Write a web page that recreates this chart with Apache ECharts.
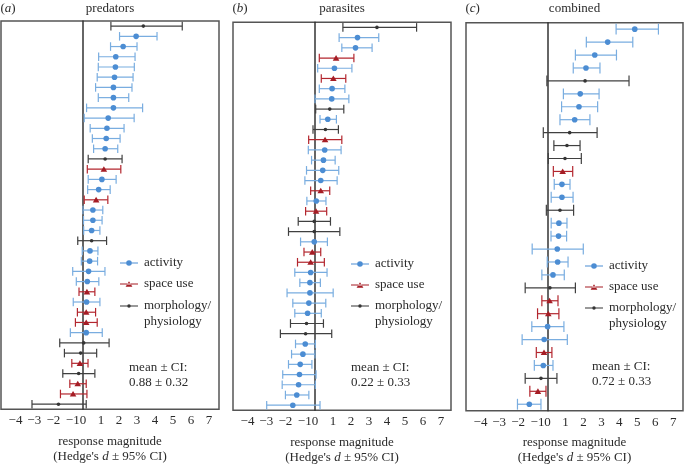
<!DOCTYPE html>
<html><head><meta charset="utf-8">
<script src="https://cdn.jsdelivr.net/npm/echarts@6/dist/echarts.min.js"></script>
<style>html,body{margin:0;padding:0;background:#fff}#c{width:685px;height:465px}</style>
</head><body><div id="c"></div>
<script>
// ---------- data ----------
const tickValues = [-4, -3, -2, -1, 0, 1, 2, 3, 4, 5, 6, 7];
const tickLabels = ['−4', '−3', '−2', '−1', '0', '1', '2', '3', '4', '5', '6', '7'];
const panelTitles = ['predators', 'parasites', 'combined'];
const panelLetters = ['a', 'b', 'c'];
const typeKeys = ['A', 'S', 'M'];
const typeNames = ['activity', 'space use', 'morphology/physiology'];
const meanValues = [0.88, 0.22, 0.72];
const ciValues = [0.32, 0.33, 0.33];

// predators (top to bottom)
const predType = ['M','A','A','A','A','A','A','A','A','A','A','A','A','M','S','A','A','S','A','A','A','M','A','A','A','A','S','A','S','S','A','M','M','S','M','S','S','M'];
const predMid  = [3.35,2.95,2.23,1.82,1.80,1.75,1.69,1.69,1.69,1.40,1.33,1.29,1.23,1.23,1.16,1.05,0.87,0.73,0.55,0.55,0.48,0.48,0.39,0.37,0.31,0.24,0.22,0.20,0.18,0.18,0.18,0.04,-0.13,-0.17,-0.24,-0.29,-0.55,-1.36];
const predLow  = [1.55,2.03,1.53,0.87,0.85,0.79,0.70,0.85,0.20,0.07,0.40,0.52,0.59,0.29,0.24,0.29,0.26,0.07,0.00,0.03,0.04,-0.29,-0.04,-0.09,-0.57,-0.37,-0.22,-0.54,-0.31,-0.42,-0.70,-1.29,-1.03,-0.62,-1.12,-0.73,-1.25,-2.83];
const predHigh = [5.51,4.11,3.00,2.89,2.85,2.78,2.72,2.54,3.31,2.84,2.28,2.06,1.93,2.17,2.10,1.84,1.51,1.38,1.10,1.06,0.94,1.31,0.83,0.81,1.22,0.88,0.66,0.94,0.70,0.79,1.07,1.45,0.76,0.28,0.66,0.18,0.22,0.18];

// parasites
const paraType = ['M','A','A','S','A','S','A','A','M','A','M','S','A','A','A','A','S','A','S','M','M','A','S','S','A','A','A','A','A','M','M','A','A','A','A','A','A','A'];
const paraMid  = [3.44,2.36,2.25,1.17,1.08,1.02,0.95,0.93,0.82,0.71,0.58,0.56,0.54,0.47,0.43,0.32,0.32,0.07,0.06,-0.04,-0.04,-0.04,-0.15,-0.24,-0.24,-0.28,-0.28,-0.34,-0.41,-0.47,-0.52,-0.54,-0.67,-0.82,-0.86,-0.91,-1.01,-1.23];
const paraLow  = [1.55,1.34,1.49,0.24,0.15,0.35,0.24,0.00,0.04,0.28,-0.11,-0.35,-0.37,-0.19,-0.47,-0.56,-0.24,-0.45,-0.52,-0.93,-1.47,-0.80,-0.61,-0.97,-1.12,-0.84,-1.55,-1.23,-1.12,-1.36,-1.92,-1.08,-1.30,-1.47,-1.79,-1.82,-1.64,-2.68];
const paraHigh = [5.64,3.54,3.17,2.16,2.05,1.71,1.66,1.88,1.60,1.19,1.30,1.49,1.45,1.12,1.32,1.23,0.82,0.61,0.65,0.86,1.38,0.69,0.32,0.52,0.67,0.30,1.01,0.60,0.35,0.47,0.93,0.02,0.00,-0.17,0.06,0.02,-0.34,0.28];

// combined
const combType = ['A','A','A','A','M','A','A','A','M','M','M','S','A','A','M','A','A','A','A','A','M','S','S','A','A','S','A','M','S','A'];
const combMid  = [4.86,3.35,2.63,2.14,2.09,1.82,1.75,1.51,1.23,1.08,0.97,0.84,0.80,0.80,0.69,0.63,0.61,0.54,0.56,0.30,0.13,0.11,0.04,0.00,-0.19,-0.20,-0.24,-0.37,-0.54,-1.02];
const combLow  = [3.82,2.16,1.55,1.43,-0.04,0.88,0.78,0.69,-0.24,0.35,0.04,0.32,0.37,0.20,-0.07,0.20,0.19,-0.86,-0.02,-0.32,-1.25,-0.32,-0.56,-0.88,-1.42,-0.63,-0.74,-1.25,-0.99,-1.68];
const combHigh = [6.18,4.75,3.84,2.92,4.54,2.87,2.79,2.36,2.76,1.81,1.88,1.40,1.25,1.42,1.45,1.08,1.06,1.99,1.14,0.93,1.55,0.58,0.63,0.91,1.10,0.24,0.30,0.52,-0.09,-0.37];

const panels = [
  {type: predType, mid: predMid, low: predLow, high: predHigh},
  {type: paraType, mid: paraMid, low: paraLow, high: paraHigh},
  {type: combType, mid: combMid, low: combLow, high: combHigh}
];

// ---------- styling ----------
const FONT = 'Liberation Serif';
const TXT = '#2b2b2b';
const X_MIN = -4.55, X_MAX = 7.55;
const gridPos = [{left: 1, width: 218, top: 21, height: 388.3}, {left: 233, width: 218, top: 22.3, height: 388}, {left: 466, width: 217, top: 22.7, height: 388}];
const styleOf = {
  A: {bar: '#79ade0', dot: '#4c8dd3'},
  S: {bar: '#b3262e', dot: '#a51d25'},
  M: {bar: '#404040', dot: '#353535'}
};
const legendIcons = {
  A: 'path://M0,0M18,10M0,4.45L18,4.45L18,5.55L0,5.55ZM6.2,5A2.8,2.8,0,1,1,11.8,5A2.8,2.8,0,1,1,6.2,5Z',
  S: 'path://M0,0M18,10M0,4.45L18,4.45L18,5.55L0,5.55ZM5.6,7.7L12.4,7.7L9,2.2Z',
  M: 'path://M0,0M18,10M0,4.45L18,4.45L18,5.55L0,5.55ZM7.2,5A1.8,1.8,0,1,1,10.8,5A1.8,1.8,0,1,1,7.2,5Z'
};
const legendLeft = [120, 351, 585];
const legendTopA = [255, 256, 258];
const legendTopB = [282, 282, 284];
const meanPos = [[129, 360.5], [351, 360.5], [592, 359]];
const negShift = {1: 7.8, 2: 6.4, 3: 5.3, 4: 4.6};

function makeRender(kind) {
  const st = styleOf[kind];
  return function (params, api) {
    const row = api.value(0);
    const lo = api.coord([api.value(1), row]);
    const md = api.coord([api.value(2), row]);
    const hi = api.coord([api.value(3), row]);
    const band = api.size([0, 1])[1];
    const cap = band * 0.42;
    const y = md[1];
    const lw = 1.2;
    const children = [
      {type: 'line', shape: {x1: lo[0], y1: y, x2: hi[0], y2: y}, style: {stroke: st.bar, lineWidth: lw}},
      {type: 'line', shape: {x1: lo[0], y1: y - cap, x2: lo[0], y2: y + cap}, style: {stroke: st.bar, lineWidth: lw}},
      {type: 'line', shape: {x1: hi[0], y1: y - cap, x2: hi[0], y2: y + cap}, style: {stroke: st.bar, lineWidth: lw}}
    ];
    if (kind === 'A') {
      children.push({type: 'circle', shape: {cx: md[0], cy: y, r: 2.8}, style: {fill: st.dot}});
    } else if (kind === 'S') {
      children.push({type: 'polygon', shape: {points: [[md[0] - 3.3, y + 2.6], [md[0] + 3.3, y + 2.6], [md[0], y - 3]]}, style: {fill: st.dot}});
    } else {
      children.push({type: 'circle', shape: {cx: md[0], cy: y, r: 1.8}, style: {fill: st.dot}});
    }
    return {type: 'group', children: children};
  };
}

const grid = [], xAxis = [], yAxis = [], series = [], legend = [], graphic = [];
const labelRich = {};
Object.keys(negShift).forEach(k => {
  labelRich['n' + k] = {padding: [0, -negShift[k], 0, negShift[k]], fontFamily: FONT, fontSize: 13, color: TXT, lineHeight: 15};
});
// an empty label at the axis start keeps the min/max overlap check away from "−4"/"−3"
const labelValues = [X_MIN].concat(tickValues);

panels.forEach((p, pi) => {
  const g = gridPos[pi];
  grid.push({left: g.left, width: g.width, top: g.top, height: g.height, outerBoundsMode: 'none', containLabel: false,
    show: true, borderColor: '#555', borderWidth: 1.5, backgroundColor: 'transparent'});
  xAxis.push({
    gridIndex: pi, type: 'value', min: X_MIN, max: X_MAX,
    splitLine: {show: false}, axisLine: {show: false}, axisTick: {show: false},
    axisLabel: {
      customValues: labelValues, margin: 4, fontFamily: FONT, fontSize: 13, color: TXT, lineHeight: 15,
      showMinLabel: true, showMaxLabel: true, hideOverlap: false,
      formatter: v => {
        const i = tickValues.indexOf(v);
        if (i < 0) return '';
        const s = tickLabels[i];
        return v < 0 ? '{n' + (-v) + '|' + s + '}' : s;
      },
      rich: labelRich
    },
    name: "response magnitude\n(Hedge's {i|d} ± 95% CI)",
    nameLocation: 'middle', nameGap: 24.5, nameMoveOverlap: false,
    nameTextStyle: {fontFamily: FONT, fontSize: 13, color: TXT, lineHeight: 15,
      rich: {i: {fontStyle: 'italic', fontFamily: FONT, fontSize: 13, color: TXT, lineHeight: 15}}}
  });
  yAxis.push({
    gridIndex: pi, type: 'category', inverse: true,
    data: p.mid.map((_, i) => String(i + 1)),
    axisLabel: {show: false}, axisTick: {show: false}, splitLine: {show: false},
    axisLine: {show: true, onZero: true, lineStyle: {color: '#333', width: 1.5}}
  });
  typeKeys.forEach((k, ki) => {
    const data = [];
    p.type.forEach((t, i) => { if (t === k) data.push([i, p.low[i], p.mid[i], p.high[i]]); });
    series.push({
      type: 'custom', name: typeNames[ki], xAxisIndex: pi, yAxisIndex: pi,
      itemStyle: {color: styleOf[k].dot},
      encode: {x: [1, 2, 3], y: 0},
      renderItem: makeRender(k), data: data, z: 3
    });
  });
  const legTxt = {fontFamily: FONT, fontSize: 13, color: TXT, lineHeight: 16, padding: [0, 0, 0, 1]};
  legend.push({
    orient: 'vertical', left: legendLeft[pi], top: legendTopA[pi], padding: 0,
    itemWidth: 18, itemHeight: 10, itemGap: 5, selectedMode: false, textStyle: legTxt,
    data: [{name: typeNames[0], icon: legendIcons.A}, {name: typeNames[1], icon: legendIcons.S}]
  });
  legend.push({
    orient: 'vertical', left: legendLeft[pi], top: legendTopB[pi], padding: 0,
    itemWidth: 18, itemHeight: 10, itemGap: 5, selectedMode: false, textStyle: legTxt,
    formatter: n => ' \n' + n.replace('/', '/\n'),
    data: [{name: typeNames[2], icon: legendIcons.M}]
  });
  const cx = g.left + g.width / 2;
  graphic.push({type: 'text', x: g.left - 0.5, y: 9,
    style: {text: '({i|' + panelLetters[pi] + '})', fontFamily: FONT, fontSize: 13, fill: TXT,
      align: 'left', verticalAlign: 'middle',
      rich: {i: {fontStyle: 'italic', fontFamily: FONT, fontSize: 13, fill: TXT}}}});
  graphic.push({type: 'text', x: cx, y: 9,
    style: {text: panelTitles[pi], fontFamily: FONT, fontSize: 13, fill: TXT, align: 'center', verticalAlign: 'middle'}});
  graphic.push({type: 'text', x: meanPos[pi][0], y: meanPos[pi][1],
    style: {text: 'mean ± CI:\n' + meanValues[pi].toFixed(2) + ' ± ' + ciValues[pi].toFixed(2),
      fontFamily: FONT, fontSize: 13, fill: TXT, lineHeight: 15, align: 'left', verticalAlign: 'top'}});
});

const chart = echarts.init(document.getElementById('c'), null, {renderer: 'canvas'});
chart.setOption({animation: false, backgroundColor: '#fff', grid, xAxis, yAxis, series, legend, graphic});
</script></body></html>
